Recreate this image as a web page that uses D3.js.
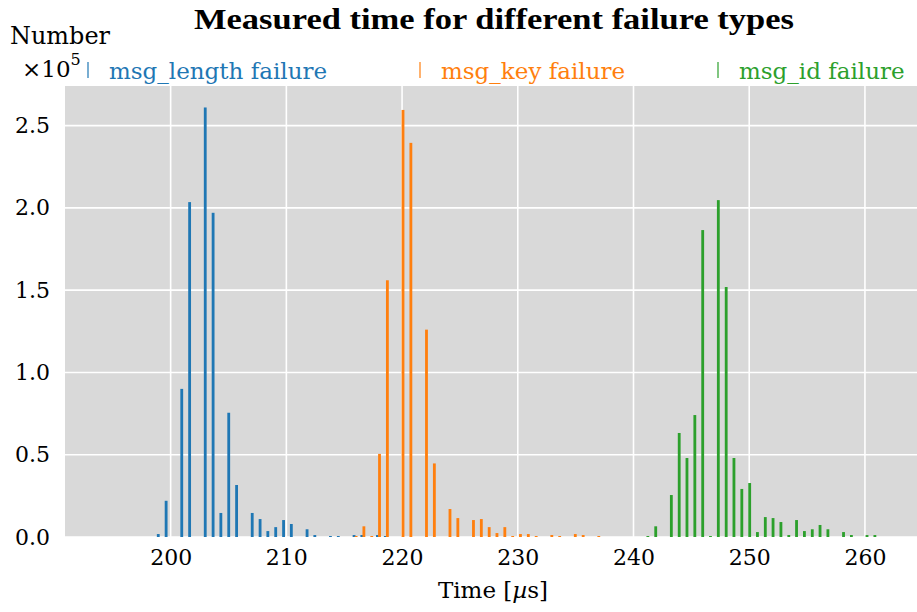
<!DOCTYPE html>
<html>
<head>
<meta charset="utf-8">
<script src="https://cdn.jsdelivr.net/npm/d3@7"></script>
<style>
  html, body { margin: 0; padding: 0; background: #ffffff; }
  svg { display: block; }
</style>
</head>
<body>
<div id="chart"></div>
<script>
// ---------------- data (histogram bins, time in µs, counts) ----------------
const binWidth = 0.6766;           // µs, common histogram bin width

const seriesNames = ["msg_length failure", "msg_key failure", "msg_id failure"];
const seriesColors = ["#1f77b4", "#ff7f0e", "#2ca02c"];

const lengthTimes  = [199.11, 199.79, 201.14, 201.82, 203.17, 203.85, 204.52, 205.20, 205.88,
                      207.23, 207.91, 208.58, 209.26, 209.94, 210.61, 211.97, 212.64, 213.99,
                      214.67, 216.03, 216.70, 218.05, 218.73];
const lengthCounts = [1800, 22000, 90000, 203500, 261000, 197000, 14600, 75500, 31600,
                      14600, 10900, 3600, 6000, 10300, 7900, 4700, 1200, 600,
                      600, 1200, 1200, 1200, 600];

const keyTimes  = [216.03, 216.70, 217.38, 218.05, 218.73, 220.08, 220.76, 222.11, 222.79,
                   224.14, 224.82, 226.17, 226.85, 227.53, 228.20, 228.88, 229.56, 230.23,
                   230.91, 231.59, 232.94, 233.62, 234.97, 235.65, 237.00];
const keyCounts = [600, 6500, 600, 50500, 156000, 259500, 239500, 126000, 44700,
                   17000, 11500, 10300, 10900, 6000, 2400, 6000, 600, 1800,
                   1800, 600, 1200, 600, 1800, 1200, 600];

const idTimes  = [241.06, 241.74, 243.09, 243.77, 244.44, 245.12, 245.80, 246.47, 247.15,
                  247.83, 248.50, 249.18, 249.86, 250.53, 251.21, 251.88, 252.56, 253.24,
                  253.91, 254.59, 255.27, 255.94, 256.62, 257.97, 258.65, 260.00, 260.68];
const idCounts = [600, 6500, 25500, 63200, 48000, 74100, 186500, 600, 204700,
                  151900, 48000, 29200, 32800, 3000, 12100, 11500, 9100, 1200,
                  10300, 3600, 4700, 7300, 4700, 3000, 1200, 1200, 1200];

const xTicks = [200, 210, 220, 230, 240, 250, 260];
const yTicks = [0, 50000, 100000, 150000, 200000, 250000];
const xDomain = [190.87, 264.5];

const titleText = "Measured time for different failure types";
const yLabel = "Number";

// ---------------- layout ----------------
const W = 917, H = 612;
const plot = { left: 65, right: 917, top: 86, bottom: 537 };

const svg = d3.select("#chart").append("svg")
  .attr("width", W).attr("height", H)
  .attr("viewBox", `0 0 ${W} ${H}`);

const serif = "'DejaVu Serif', 'Liberation Serif', serif";

const allCounts = lengthCounts.concat(keyCounts, idCounts);
const x = d3.scaleLinear().domain(xDomain).range([plot.left, plot.right]);
const y = d3.scaleLinear().domain([0, d3.max(allCounts) * 1.05]).range([plot.bottom, plot.top]);

// background
svg.append("rect")
  .attr("x", plot.left).attr("y", plot.top)
  .attr("width", plot.right - plot.left).attr("height", plot.bottom - plot.top)
  .attr("fill", "#d9d9d9");

// grid
const grid = svg.append("g");
grid.selectAll("line.gx").data(xTicks).join("line")
  .attr("class", "gx")
  .attr("x1", d => x(d)).attr("x2", d => x(d))
  .attr("y1", plot.top).attr("y2", plot.bottom)
  .attr("stroke", "#ffffff").attr("stroke-width", 1.6);
grid.selectAll("line.gy").data(yTicks).join("line")
  .attr("class", "gy")
  .attr("x1", plot.left).attr("x2", plot.right)
  .attr("y1", d => y(d)).attr("y2", d => y(d))
  .attr("stroke", "#ffffff").attr("stroke-width", 1.6);

// bars (side-by-side histogram, 3 datasets per bin)
const barStep = binWidth * 0.8 / 3;   // spacing of sub-bars within a bin
const barW = binWidth * 0.36;         // drawn width of each bar
const series = [
  { times: lengthTimes, counts: lengthCounts, offset: -1 },
  { times: keyTimes,    counts: keyCounts,    offset: 0 },
  { times: idTimes,     counts: idCounts,     offset: 1 }
];
svg.append("clipPath").attr("id", "plotclip")
  .append("rect")
  .attr("x", plot.left).attr("y", plot.top)
  .attr("width", plot.right - plot.left).attr("height", plot.bottom - plot.top);

const barsG = svg.append("g").attr("clip-path", "url(#plotclip)");
series.forEach((s, i) => {
  const data = s.times.map((t, j) => ({ c: t + s.offset * barStep, n: s.counts[j] }));
  barsG.append("g").selectAll("rect").data(data).join("rect")
    .attr("x", d => x(d.c - barW / 2))
    .attr("width", d => x(d.c + barW / 2) - x(d.c - barW / 2))
    .attr("y", d => y(d.n))
    .attr("height", d => y(0) - y(d.n))
    .attr("fill", seriesColors[i]);
});

// axes (no tick marks, no domain line)
const xAxis = svg.append("g")
  .attr("transform", `translate(0,${plot.bottom})`)
  .call(d3.axisBottom(x).tickValues(xTicks).tickFormat(d3.format("d")).tickSize(0).tickPadding(12));
xAxis.select(".domain").remove();
xAxis.selectAll("text")
  .attr("font-family", serif).attr("font-size", 22).attr("fill", "#000");

const yAxis = svg.append("g")
  .attr("transform", `translate(${plot.left},0)`)
  .call(d3.axisLeft(y).tickValues(yTicks).tickFormat(d => (d / 1e5).toFixed(1)).tickSize(0).tickPadding(15));
yAxis.select(".domain").remove();
yAxis.selectAll("text")
  .attr("font-family", serif).attr("font-size", 22).attr("fill", "#000");

// title
svg.append("text")
  .attr("x", 494).attr("y", 29)
  .attr("text-anchor", "middle")
  .attr("font-family", "'Liberation Serif', 'DejaVu Serif', serif")
  .attr("font-weight", "bold")
  .attr("font-size", 29)
  .attr("textLength", 600).attr("lengthAdjust", "spacingAndGlyphs")
  .text(titleText);

// y label
svg.append("text")
  .attr("x", 10).attr("y", 44)
  .attr("font-family", serif).attr("font-size", 24)
  .attr("textLength", 100).attr("lengthAdjust", "spacingAndGlyphs")
  .text(yLabel);

// multiplier ×10^5
const mult = svg.append("text")
  .attr("x", 22).attr("y", 77)
  .attr("font-family", serif).attr("font-size", 23);
mult.append("tspan").text("×10");
mult.append("tspan").attr("dy", -12).attr("font-size", 16).text("5");

// x label
const xl = svg.append("text")
  .attr("x", 493).attr("y", 598)
  .attr("text-anchor", "middle")
  .attr("font-family", serif).attr("font-size", 23);
xl.append("tspan").text("Time [");
xl.append("tspan").attr("font-style", "italic").text("µ");
xl.append("tspan").text("s]");

// legend
const legendX = [88, 420, 718];
const legend = svg.append("g");
seriesNames.forEach((name, i) => {
  legend.append("line")
    .attr("x1", legendX[i]).attr("x2", legendX[i])
    .attr("y1", 62).attr("y2", 78)
    .attr("stroke", seriesColors[i]).attr("stroke-width", 1.2);
  legend.append("text")
    .attr("x", legendX[i] + 21).attr("y", 79)
    .attr("font-family", serif).attr("font-size", 23)
    .attr("fill", seriesColors[i])
    .text(name);
});
</script>
</body>
</html>
